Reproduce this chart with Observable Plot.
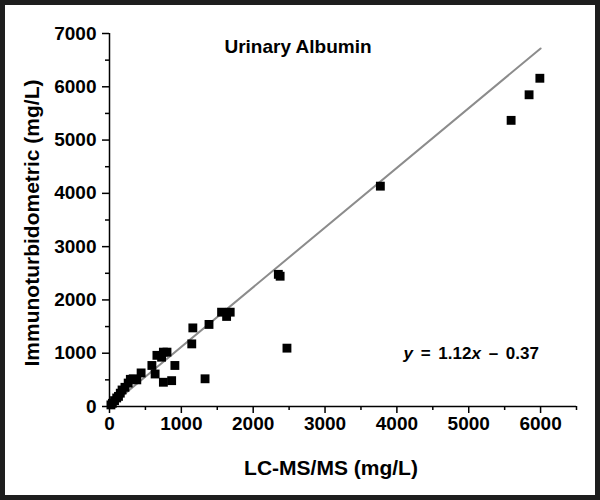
<!DOCTYPE html>
<html>
<head>
<meta charset="utf-8">
<script src="https://cdn.jsdelivr.net/npm/d3@7"></script>
<script src="https://cdn.jsdelivr.net/npm/@observablehq/plot@0.6"></script>
<style>
  body { margin: 0; background: #fff; }
  #wrap { position: relative; width: 600px; height: 500px; overflow: hidden; }
  #border { position: absolute; left: 0; top: 0; width: 600px; height: 500px; box-sizing: border-box; border: 5px solid #1e1e1e; pointer-events: none; }
</style>
</head>
<body>
<div id="wrap"><div id="border"></div></div>
<script>
// Data
const lcms   = [20, 40, 70, 100, 125, 150, 175, 215, 260, 290, 330, 380, 440, 590, 635, 660, 725, 750, 800, 750, 865, 910, 1145, 1160, 1330, 1385, 1560, 1630, 1680, 2350, 2375, 2470, 3770, 5590, 5840, 5990];
const immuno = [30, 60, 110, 160, 190, 250, 310, 360, 440, 510, 520, 500, 630, 770, 610, 960, 925, 1020, 1020, 455, 485, 770, 1175, 1475, 520, 1540, 1770, 1690, 1770, 2480, 2445, 1095, 4135, 5370, 5850, 6160];
const slope = 1.12;
const intercept = -0.37;
const fitRange = [0, 6000];
const xDomain = [0, 6500];
const yDomain = [0, 7000];
const xMajor = [0, 1000, 2000, 3000, 4000, 5000, 6000];
const xMinor = [500, 1500, 2500, 3500, 4500, 5500, 6500];
const yMajor = [0, 1000, 2000, 3000, 4000, 5000, 6000, 7000];
const yMinor = [500, 1500, 2500, 3500, 4500, 5500, 6500];
const titleText = "Urinary Albumin";
const xLabel = "LC-MS/MS (mg/L)";
const yLabel = "Immunoturbidometric (mg/L)";
const eqText = "y = 1.12x \u2013 0.37";

const points = lcms.map((x, i) => ({x, y: immuno[i]}));
const fit = fitRange.map(x => ({x, y: slope * x + intercept}));
const fmt = d => String(d);

const chart = Plot.plot({
  width: 600,
  height: 500,
  marginLeft: 109,
  marginRight: 24,
  marginTop: 33,
  marginBottom: 94,
  style: {fontFamily: "'Liberation Sans', Arial, sans-serif", fontWeight: "bold", background: "white", color: "black"},
  x: {domain: xDomain},
  y: {domain: yDomain},
  marks: [
    Plot.axisX({ticks: xMajor, tickFormat: fmt, tickSize: 7, tickPadding: 3, label: null, fontSize: 19, strokeWidth: 1.5}),
    Plot.axisX({ticks: xMinor, tickSize: 4, tickFormat: () => "", label: null, strokeWidth: 1.5}),
    Plot.axisY({ticks: yMajor, tickFormat: fmt, tickSize: 7, tickPadding: 6, label: null, fontSize: 19, strokeWidth: 1.5}),
    Plot.axisY({ticks: yMinor, tickSize: 4, tickFormat: () => "", label: null, strokeWidth: 1.5}),
    Plot.ruleY([0], {x1: xDomain[0], x2: xDomain[1], strokeWidth: 1.5}),
    Plot.ruleX([0], {y1: yDomain[0], y2: yDomain[1], strokeWidth: 1.5}),
    Plot.line(fit, {x: "x", y: "y", stroke: "#8c8c8c", strokeWidth: 2}),
    Plot.dot(points, {x: "x", y: "y", symbol: "square", r: 5, fill: "black"}),
    Plot.text([titleText], {text: d => d, frameAnchor: "top", lineAnchor: "middle", dx: -45, dy: 13, fontSize: 19}),
    Plot.text([xLabel], {text: d => d, frameAnchor: "bottom", lineAnchor: "middle", dx: -12, dy: 62, fontSize: 21}),
    Plot.text([yLabel], {text: d => d, frameAnchor: "left", textAnchor: "middle", lineAnchor: "middle", dx: -77, dy: 3, rotate: -90, fontSize: 21}),
    Plot.text([eqText], {text: d => d, frameAnchor: "bottom-left", textAnchor: "start", lineAnchor: "middle", dx: 294, dy: -53, fontSize: 17})
  ]
});

document.getElementById("wrap").insertBefore(chart, document.getElementById("border"));

// italicize the variables in the equation
d3.select(chart).selectAll("text").each(function() {
  if (this.textContent === eqText) {
    const t = d3.select(this);
    t.text(null).style("word-spacing", "3px");
    t.append("tspan").attr("font-style", "italic").text("y");
    t.append("tspan").text(" = 1.12");
    t.append("tspan").attr("font-style", "italic").text("x");
    t.append("tspan").text(" \u2013 0.37");
  }
});
</script>
</body>
</html>
